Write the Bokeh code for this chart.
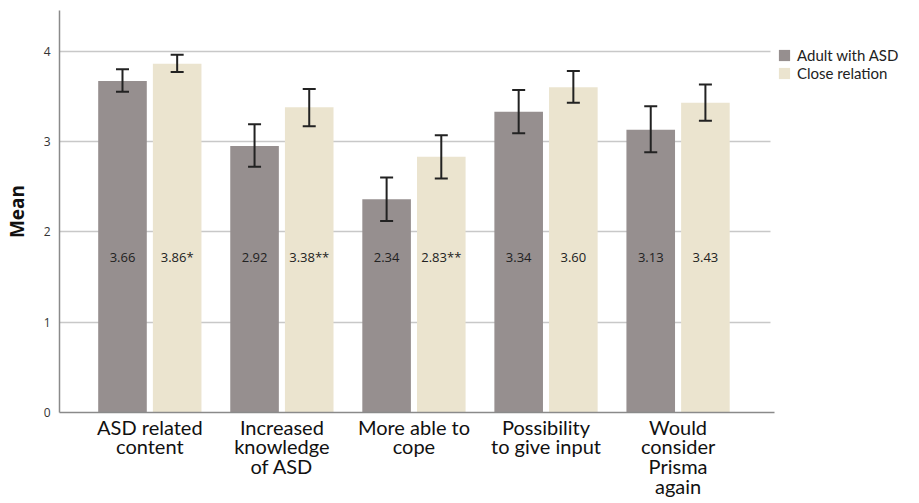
from bokeh.plotting import figure
from bokeh.models import ColumnDataSource, Range1d, FixedTicker, Whisker, TeeHead, Legend, LegendItem
from bokeh.transform import dodge
from bokeh.core.properties import value
from bokeh.embed import file_html
from bokeh.resources import INLINE

categories = ["ASD related\ncontent", "Increased\nknowledge\nof ASD", "More able to\ncope",
              "Possibility\nto give input", "Would\nconsider\nPrisma\nagain"]
xpos = [1, 2, 3, 4, 5]
adult_mean = [3.67, 2.95, 2.36, 3.33, 3.13]
adult_lower = [3.55, 2.72, 2.12, 3.09, 2.88]
adult_upper = [3.80, 3.19, 2.60, 3.57, 3.39]
adult_labels = ["3.66", "2.92", "2.34", "3.34", "3.13"]
close_mean = [3.86, 3.38, 2.83, 3.60, 3.43]
close_lower = [3.77, 3.17, 2.59, 3.43, 3.23]
close_upper = [3.96, 3.58, 3.07, 3.78, 3.63]
close_labels = ["3.86*", "3.38**", "2.83**", "3.60", "3.43"]
label_y = [1.72] * 5
yticks = [0, 1, 2, 3, 4]

GRAY = "#968f8f"
BEIGE = "#ebe4cf"

src = ColumnDataSource(dict(x=xpos, am=adult_mean, al=adult_lower, au=adult_upper, at=adult_labels,
                            cm=close_mean, cl=close_lower, cu=close_upper, ct=close_labels, ly=label_y))

XSTART, XPLOT_END, XEND = 0.316, 5.70, 6.707
p = figure(width=903, height=500, output_backend="svg", toolbar_location=None,
           x_range=Range1d(XSTART, XEND), y_range=Range1d(0, 4.45),
           min_border_left=53, min_border_top=10, min_border_bottom=87, min_border_right=0)
p.outline_line_color = None
p.background_fill_color = "white"

off = 0.207
bw = 0.368
r1 = p.vbar(x=dodge("x", -off), top="am", width=bw, source=src, color=GRAY, line_color=None)
r2 = p.vbar(x=dodge("x", off), top="cm", width=bw, source=src, color=BEIGE, line_color=None)

for o, lo, up in [(-off, "al", "au"), (off, "cl", "cu")]:
    w = Whisker(base=dodge("x", o), lower=lo, upper=up, source=src, level="overlay",
                line_color="#222222", line_width=2,
                upper_head=TeeHead(size=13, line_color="#222222", line_width=2),
                lower_head=TeeHead(size=13, line_color="#222222", line_width=2))
    p.add_layout(w)

p.text(x=dodge("x", -off), y="ly", text="at", source=src, text_align="center", text_baseline="middle",
       text_font=value("Open Sans"), text_font_size="13px", text_color="#222222")
p.text(x=dodge("x", off), y="ly", text="ct", source=src, text_align="center", text_baseline="middle",
       text_font=value("Open Sans"), text_font_size="13px", text_color="#222222")

p.xgrid.visible = False
p.ygrid.ticker = FixedTicker(ticks=[1, 2, 3, 4])
p.ygrid.grid_line_color = "#c8c8c8"
p.ygrid.grid_line_width = 1.5
p.ygrid.cross_bounds = (XSTART, XPLOT_END)

p.yaxis.ticker = FixedTicker(ticks=yticks)
p.yaxis.axis_label = "Mean"
p.yaxis.axis_label_text_font = "Open Sans"
p.yaxis.axis_label_text_font_style = "bold"
p.yaxis.axis_label_text_font_size = "19px"
p.yaxis.axis_label_text_color = "#111111"
p.yaxis.axis_label_standoff = 11
p.yaxis.major_label_text_font = "Open Sans"
p.yaxis.major_label_text_font_size = "12px"
p.yaxis.major_label_text_color = "#333333"
p.yaxis.major_label_standoff = 3

p.xaxis.ticker = FixedTicker(ticks=xpos)
p.xaxis.bounds = (XSTART, XPLOT_END + 0.03)
p.xaxis.major_label_overrides = {x: c for x, c in zip(xpos, categories)}
p.xaxis.major_label_text_font = "Lato"
p.xaxis.major_label_text_font_size = "20px"
p.xaxis.major_label_text_line_height = 0.82
p.xaxis.major_label_text_color = "#111111"
p.xaxis.major_label_standoff = -4

for ax in (p.xaxis, p.yaxis):
    ax.axis_line_color = "#8a8a8a"
    ax.axis_line_width = 1.5
    ax.major_tick_line_color = None
    ax.minor_tick_line_color = None

legend = Legend(items=[LegendItem(label="Adult with ASD", renderers=[r1]),
                       LegendItem(label="Close relation", renderers=[r2])],
                location=(718, 330), padding=0, margin=0, spacing=0,
                glyph_width=14, glyph_height=14, label_standoff=6, label_height=14,
                label_text_font="Lato", label_text_font_size="15px", label_text_color="#222222",
                border_line_color=None, background_fill_alpha=0)
p.add_layout(legend, "center")

open("out.html", "w").write(file_html(p, INLINE))
